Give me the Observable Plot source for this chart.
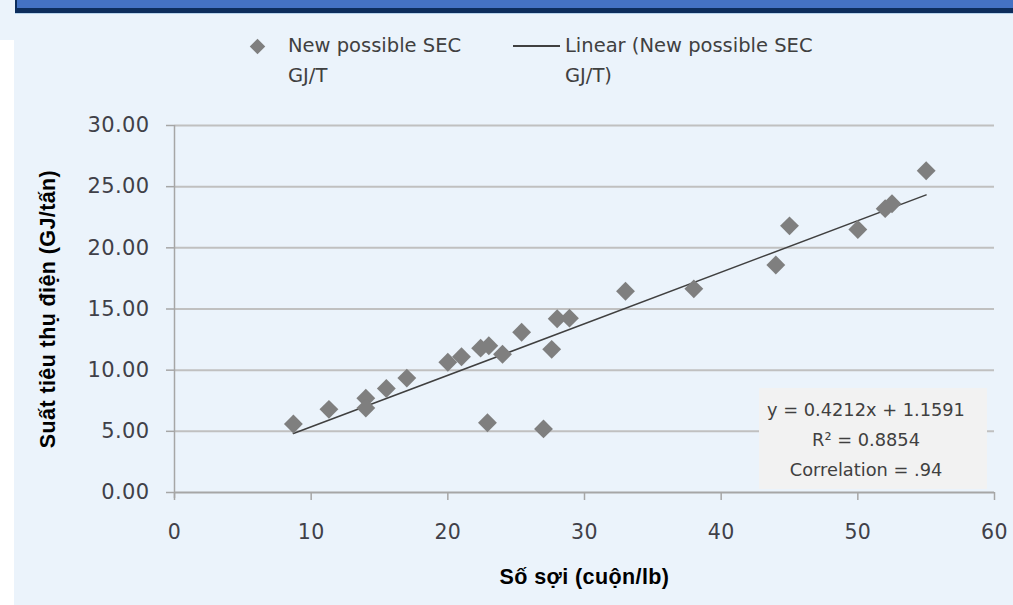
<!DOCTYPE html>
<html><head><meta charset="utf-8">
<script src="https://cdn.jsdelivr.net/npm/d3@7"></script>
<script src="https://cdn.jsdelivr.net/npm/@observablehq/plot@0.6"></script>
<style>
body{margin:0;background:#fff;}
#wrap{position:relative;width:1013px;height:605px;overflow:hidden;background:#ebf3fb;font-family:"DejaVu Sans",sans-serif;color:#404040;}
#strip{position:absolute;left:0;top:40px;width:14px;height:565px;background:#fff;}
#bannerTop{position:absolute;left:15px;top:0;width:998px;height:8px;background:#4472c4;box-sizing:border-box;border-left:2px solid #0d2d5c;}
#bannerBot{position:absolute;left:15px;top:8px;width:998px;height:5px;background:#0d2d5c;}
#bannerLine{position:absolute;left:15px;top:13px;width:998px;height:1px;background:#b7d3ec;}
#chart{position:absolute;left:0;top:0;}
.leg{position:absolute;font-size:19.5px;line-height:30px;color:#404040;white-space:nowrap;}
#legDia{position:absolute;left:252px;top:41px;width:11px;height:11px;background:#7f7f7f;transform:rotate(45deg);}
#legLine{position:absolute;left:513px;top:45px;width:47px;height:1.5px;background:#404040;}
#eq{position:absolute;left:759px;top:388px;width:228px;height:101px;background:#f2f2f2;text-align:center;font-size:17.8px;line-height:30px;color:#404040;box-sizing:border-box;padding-top:7px;padding-right:14px;}
#chart svg text{letter-spacing:0.4px;}
</style></head><body>
<div id="wrap">
  <div id="strip"></div>
  <div id="chart"></div>
  <div id="bannerTop"></div><div id="bannerBot"></div><div id="bannerLine"></div>
  <div id="legDia"></div>
  <div class="leg" style="left:288px;top:31px;">New possible SEC<br>GJ/T</div>
  <div id="legLine"></div>
  <div class="leg" style="left:565px;top:31px;">Linear (New possible SEC<br>GJ/T)</div>
  <div id="eq"></div>
</div>
<script>
// Data
const fiberCount = [8.7, 11.3, 14.0, 14.0, 15.5, 17.0, 20.0, 21.0, 22.4, 23.0, 24.0, 22.9, 25.4, 27.6, 27.0, 28.0, 28.9, 33.0, 38.0, 44.0, 45.0, 50.0, 52.0, 52.5, 55.0];
const sec        = [5.6, 6.8, 7.7, 6.9, 8.5, 9.35, 10.65, 11.1, 11.8, 12.0, 11.3, 5.7, 13.1, 11.7, 5.2, 14.2, 14.25, 16.45, 16.65, 18.6, 21.8, 21.5, 23.2, 23.6, 26.3];
const slope = 0.4212;
const intercept = 1.1591;
const eqLines = ["y = 0.4212x + 1.1591", "R² = 0.8854", "Correlation = .94"];
const xTicks = [0, 10, 20, 30, 40, 50, 60];
const yTicks = [0, 5, 10, 15, 20, 25, 30];
const xTitle = "Số sợi (cuộn/lb)";
const yTitle = "Suất tiêu thụ điện (GJ/tấn)";

const points = fiberCount.map((x, i) => ({x, y: sec[i]}));
const xr = d3.extent(fiberCount);
const trend = xr.map(x => ({x, y: slope * x + intercept}));

const plot = Plot.plot({
  width: 1013, height: 605,
  marginLeft: 174, marginRight: 19, marginTop: 125, marginBottom: 113,
  x: {domain: [0, 60]},
  y: {domain: [0, 30]},
  style: {background: "transparent", fontFamily: "DejaVu Sans", color: "#404040", overflow: "visible"},
  marks: [
    Plot.ruleY(yTicks.filter(d => d > 0), {stroke: "#c0c0c0", strokeWidth: 2}),
    Plot.ruleX([0], {stroke: "#a6a6a6", strokeWidth: 1.5, insetBottom: -6}),
    Plot.ruleY([0], {stroke: "#a6a6a6", strokeWidth: 2}),
    Plot.axisY({ticks: yTicks, tickFormat: d3.format(".2f"), tickSize: 8, tickPadding: 17, fontSize: 21, label: null, stroke: "#a6a6a6", fill: "#404048", strokeWidth: 1.5}),
    Plot.axisX({ticks: xTicks, tickSize: 8, tickPadding: 24, fontSize: 20.5, label: null, stroke: "#a6a6a6", fill: "#404048", strokeWidth: 1.5}),
    Plot.line(trend, {x: "x", y: "y", stroke: "#404040", strokeWidth: 1.5}),
    Plot.dot(points, {x: "x", y: "y", symbol: "diamond2", r: 8.5, fill: "#7f7f7f", stroke: "none"}),
    Plot.text([yTitle], {frameAnchor: "left", dx: -126, rotate: -90, textAnchor: "middle", lineAnchor: "middle", fontFamily: "Liberation Sans", fontWeight: "bold", fontSize: 21.5, fill: "#000"}),
    Plot.text([xTitle], {frameAnchor: "bottom", dy: 85, textAnchor: "middle", lineAnchor: "middle", fontFamily: "Liberation Sans", fontWeight: "bold", fontSize: 21.5, fill: "#000"})
  ]
});
document.getElementById("chart").appendChild(plot);
document.getElementById("eq").innerHTML = eqLines.join("<br>");
</script>
</body></html>
